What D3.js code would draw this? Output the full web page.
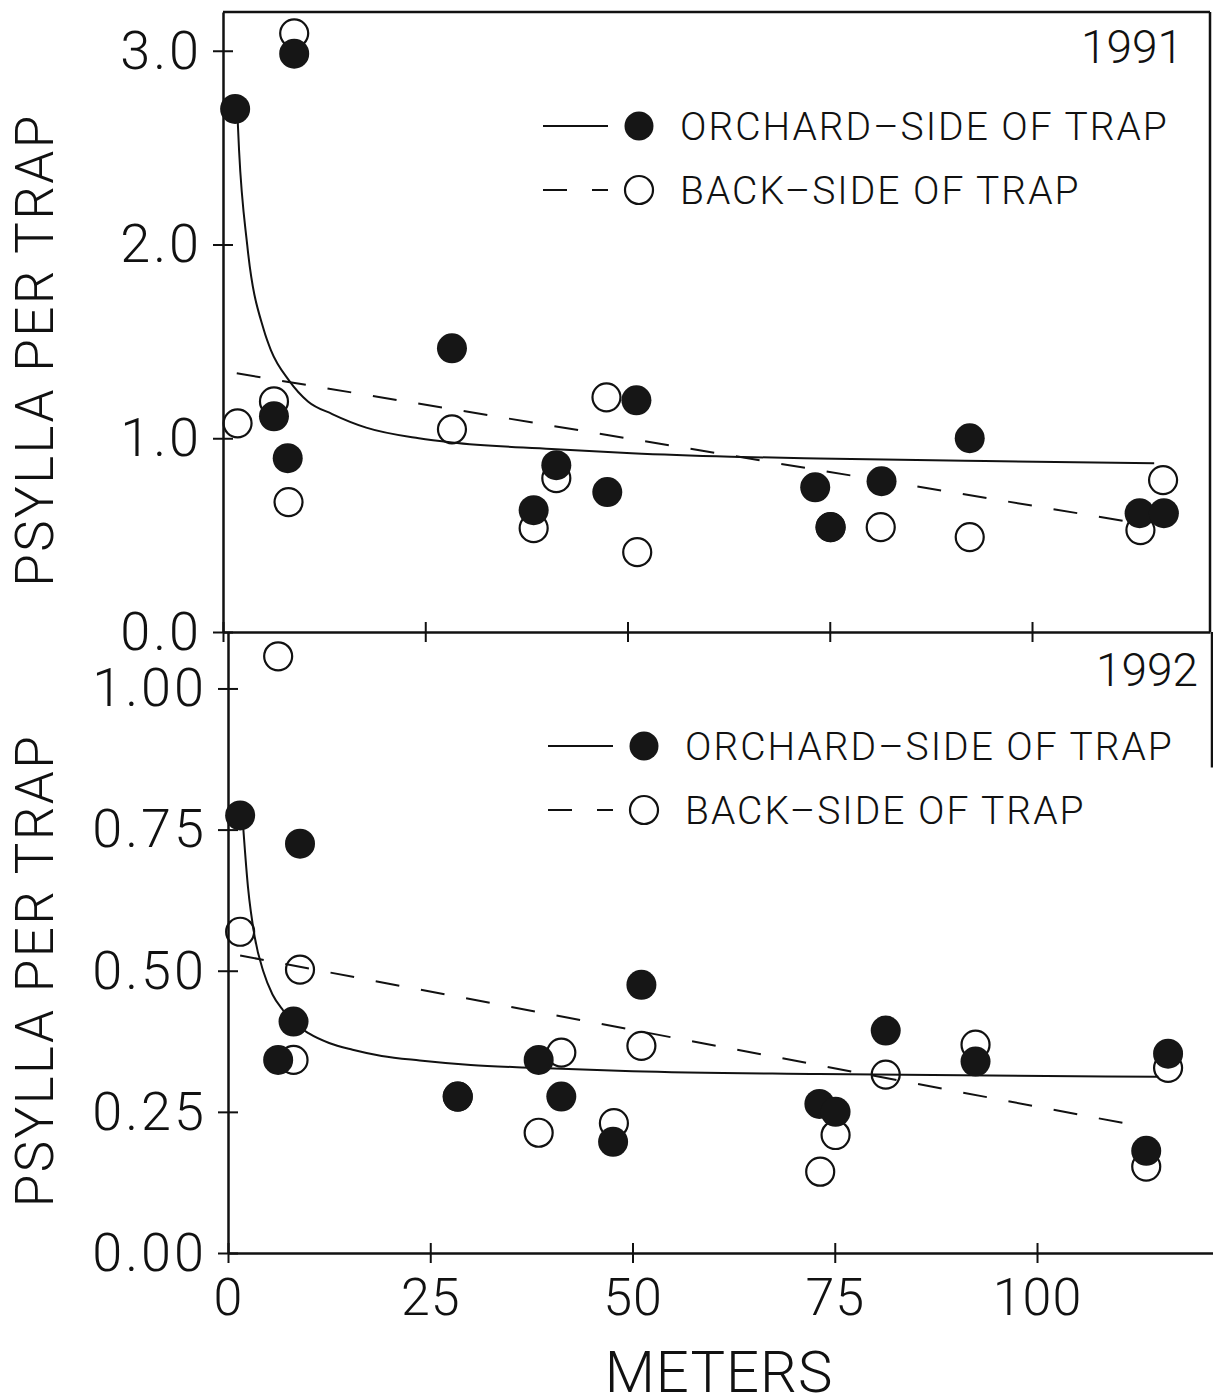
<!DOCTYPE html>
<html>
<head>
<meta charset="utf-8">
<script src="https://cdn.jsdelivr.net/npm/d3@7"></script>
<style>
  html, body { margin: 0; padding: 0; background: #fff; }
  svg { display: block; }
  text { font-family: Roboto, "Liberation Sans", sans-serif; font-weight: 300; fill: #111; }
</style>
</head>
<body>
<svg id="chart" width="1213" height="1400"></svg>
<script>
// ---- 1991: psylla per trap by distance from the orchard (m) ----
const orchard91M = [1.5, 8.8, 6.3, 8.0, 28.3, 41.2, 38.4, 47.5, 51.1, 73.2, 75.1, 81.4, 92.3, 113.3, 116.3];
const orchard91V = [2.70, 2.985, 1.113, 0.897, 1.464, 0.861, 0.629, 0.722, 1.196, 0.747, 0.541, 0.778, 1.0, 0.613, 0.613];
const back91M = [8.8, 1.8, 6.3, 8.1, 28.3, 41.2, 38.4, 47.4, 51.2, 75.1, 81.3, 92.3, 113.4, 116.2];
const back91V = [3.09, 1.077, 1.19, 0.67, 1.046, 0.794, 0.536, 1.211, 0.412, 0.541, 0.541, 0.49, 0.526, 0.784];
// fitted curve (orchard side) and trend line (back side)
const fit91M = [1.75, 1.98, 3.0, 5.06, 5.93, 8.15, 10.5, 13.5, 17.7, 24.2, 28.3, 40.6, 50.5, 62.8, 73.6, 91.7, 115.1];
const fit91V = [2.70, 2.49, 1.995, 1.557, 1.454, 1.299, 1.19, 1.125, 1.055, 1.0, 0.978, 0.945, 0.923, 0.905, 0.895, 0.884, 0.871];
const trend91M = [1.7, 113.3];
const trend91V = [1.335, 0.56];

// ---- 1992 ----
const orchard92M = [1.5, 8.9, 8.1, 6.2, 28.4, 38.4, 41.2, 47.6, 51.1, 73.1, 75.1, 81.3, 92.4, 113.5, 116.2];
const orchard92V = [0.775, 0.725, 0.41, 0.342, 0.277, 0.342, 0.277, 0.197, 0.475, 0.264, 0.25, 0.394, 0.339, 0.181, 0.353];
const back92M = [1.5, 8.9, 8.1, 6.2, 28.4, 41.2, 38.4, 47.7, 51.1, 73.2, 75.1, 81.3, 92.4, 113.5, 116.2];
const back92V = [0.569, 0.502, 0.342, 1.057, 0.277, 0.355, 0.213, 0.23, 0.367, 0.144, 0.209, 0.316, 0.369, 0.153, 0.328];
const fit92M = [1.75, 2.47, 3.3, 4.36, 5.5, 6.8, 8.0, 10.0, 12.5, 15.4, 19.0, 23.7, 30.0, 37.7, 50, 73.1, 115];
const fit92V = [0.78, 0.648, 0.56, 0.499, 0.458, 0.43, 0.41, 0.389, 0.372, 0.36, 0.349, 0.341, 0.333, 0.328, 0.322, 0.317, 0.312];
const trend92M = [1.5, 112.6];
const trend92V = [0.527, 0.225];

// ---- axes ----
const xTicks = [0, 25, 50, 75, 100];
const yTicks91 = [0, 1, 2, 3];
const yTicks92 = [0, 0.25, 0.5, 0.75, 1.0];
const legendLabels = ["ORCHARD\u2013SIDE OF TRAP", "BACK\u2013SIDE OF TRAP"];
const yTitle = "PSYLLA PER TRAP";
const xTitle = "METERS";

const zip = (a, b) => a.map((d, i) => [d, b[i]]);

const svg = d3.select("#chart");
const INK = "#111";

const panels = [
  {
    year: "1991", left: 223, right: 1210, top: 12, bottom: 632, yMax: 3.2,
    yTicks: yTicks91, fmt: d3.format(".1f"), showX: false,
    orchard: zip(orchard91M, orchard91V), back: zip(back91M, back91V),
    fit: zip(fit91M, fit91V), trend: zip(trend91M, trend91V),
    yearX: 1183, yearY: 63, fullFrame: true
  },
  {
    year: "1992", left: 228, right: 1215, top: 632, bottom: 1253, yMax: 1.1,
    yTicks: yTicks92, fmt: d3.format(".2f"), showX: true,
    orchard: zip(orchard92M, orchard92V), back: zip(back92M, back92V),
    fit: zip(fit92M, fit92V), trend: zip(trend92M, trend92V),
    yearX: 1198, yearY: 686, fullFrame: false
  }
];

const xMax = 122;

panels.forEach(p => {
  const g = svg.append("g");
  const x = d3.scaleLinear().domain([0, xMax]).range([p.left, p.right]);
  const y = d3.scaleLinear().domain([0, p.yMax]).range([p.bottom, p.top]);

  // frame pieces
  if (p.fullFrame) {
    g.append("line").attr("x1", p.left).attr("x2", p.right).attr("y1", p.top).attr("y2", p.top)
      .attr("stroke", INK).attr("stroke-width", 2.5);
    g.append("line").attr("x1", p.right).attr("x2", p.right).attr("y1", p.top).attr("y2", p.bottom)
      .attr("stroke", INK).attr("stroke-width", 2.5);
  } else {
    g.append("line").attr("x1", p.right - 3).attr("x2", p.right - 3).attr("y1", p.top).attr("y2", y(0.86))
      .attr("stroke", INK).attr("stroke-width", 2.5);
  }

  // y axis with ticks crossing the axis line
  const ya = g.append("g").attr("transform", `translate(${p.left},0)`)
    .call(d3.axisLeft(y).tickValues(p.yTicks).tickFormat(p.fmt)
      .tickSizeInner(10).tickSizeOuter(0).tickPadding(11));
  ya.selectAll(".tick line").attr("x1", 10).attr("x2", -10).attr("stroke", INK).attr("stroke-width", 2);
  ya.select(".domain").attr("stroke", INK).attr("stroke-width", 2.5);
  ya.attr("font-size", 54);
  ya.selectAll(".tick text").style("letter-spacing", "3px").attr("fill", INK);

  // x axis
  const xa = g.append("g").attr("transform", `translate(0,${p.bottom})`)
    .call(d3.axisBottom(x).tickValues(xTicks).tickFormat(p.showX ? d3.format("d") : () => "")
      .tickSizeInner(10).tickSizeOuter(0).tickPadding(15));
  xa.selectAll(".tick line").attr("y1", -10).attr("y2", 10).attr("stroke", INK).attr("stroke-width", 2);
  xa.select(".domain").attr("stroke", INK).attr("stroke-width", 2.5);
  xa.attr("font-size", 52);
  xa.selectAll(".tick text").style("letter-spacing", "1px").attr("fill", INK);

  // fitted curve and trend line
  g.append("path").datum(p.fit)
    .attr("d", d3.line().x(d => x(d[0])).y(d => y(d[1])).curve(d3.curveMonotoneX))
    .attr("fill", "none").attr("stroke", INK).attr("stroke-width", 2);
  g.append("path").datum(p.trend)
    .attr("d", d3.line().x(d => x(d[0])).y(d => y(d[1])))
    .attr("fill", "none").attr("stroke", INK).attr("stroke-width", 2)
    .attr("stroke-dasharray", "24,22");

  // back-side points (hollow), then orchard-side points (solid) on top
  g.selectAll("circle.back").data(p.back).join("circle")
    .attr("class", "back")
    .attr("cx", d => x(d[0])).attr("cy", d => y(d[1])).attr("r", 14)
    .attr("fill", "none").attr("stroke", INK).attr("stroke-width", 2.2);
  g.selectAll("circle.orchard").data(p.orchard).join("circle")
    .attr("class", "orchard")
    .attr("cx", d => x(d[0])).attr("cy", d => y(d[1])).attr("r", 15)
    .attr("fill", "#161616");

  // year tag
  g.append("text").attr("x", p.yearX).attr("y", p.yearY)
    .attr("text-anchor", "end").attr("font-size", 46).text(p.year);

  // legend
  const lx = p.left, ly = p.top;
  [0, 1].forEach(i => {
    const rowY = ly + (i === 0 ? 114 : 178);
    g.append("line").attr("x1", lx + 320).attr("x2", lx + 385).attr("y1", rowY).attr("y2", rowY)
      .attr("stroke", INK).attr("stroke-width", 2)
      .attr("stroke-dasharray", i === 0 ? null : "24,25");
    g.append("circle").attr("cx", lx + 416).attr("cy", rowY).attr("r", i === 0 ? 14.5 : 14)
      .attr("fill", i === 0 ? "#161616" : "none")
      .attr("stroke", i === 0 ? "none" : INK).attr("stroke-width", 2.2);
    g.append("text").attr("x", lx + 457).attr("y", rowY + 14)
      .attr("font-size", 39).style("letter-spacing", "2px").text(legendLabels[i]);
  });

  // y title
  g.append("text")
    .attr("transform", `translate(53,${(p.top + p.bottom) / 2 + 28}) rotate(-90)`)
    .attr("text-anchor", "middle").attr("font-size", 53)
    .style("letter-spacing", "2.4px").text(yTitle);
});

// x title
svg.append("text").attr("x", 719).attr("y", 1392).attr("text-anchor", "middle")
  .attr("font-size", 58).style("letter-spacing", "1px").text(xTitle);
</script>
</body>
</html>
